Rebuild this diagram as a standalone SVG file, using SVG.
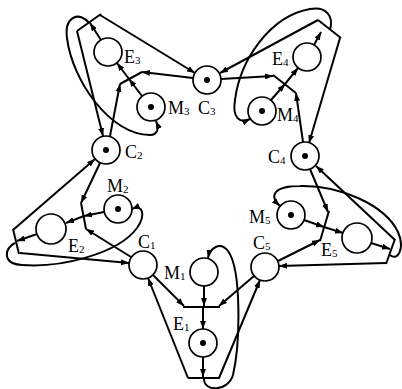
<svg xmlns="http://www.w3.org/2000/svg" width="402" height="389" viewBox="0 0 402 389">
<defs>
<marker id="a" viewBox="0 0 8 6" refX="8" refY="3" markerWidth="8" markerHeight="6" orient="auto" markerUnits="userSpaceOnUse"><path d="M0,0 L8,3 L0,6 z" fill="#000"/></marker>
<style>
.p{fill:#fff;stroke:#000;stroke-width:1.7}
.k{fill:#000}
.t{stroke:#000;stroke-width:2;fill:none}
.e{stroke:#000;stroke-width:2;fill:none;marker-end:url(#a)}
.l{font-family:"Liberation Serif",serif;font-size:18px;fill:#000}
.s{font-size:11px}
</style>
</defs>
<rect width="402" height="389" fill="#fff"/>
<g id="connectors">
<!-- arm 1 -->
<line class="e" x1="204" y1="286" x2="204" y2="306"/>
<line class="e" x1="153" y1="275" x2="184" y2="306"/>
<line class="e" x1="254" y1="276" x2="219" y2="306"/>
<line class="e" x1="203" y1="307" x2="203" y2="329"/>
<line class="e" x1="203" y1="357" x2="203" y2="377"/>
<line class="e" x1="188" y1="378" x2="148" y2="278"/>
<line class="e" x1="219" y1="378" x2="260" y2="280"/>
<path class="e" d="M204,379 C204,392 228,392 233,375 C240,345 242,270 228,251 C220,241 210,248 208,258"/>
<!-- arm 2 -->
<line class="e" x1="100" y1="163" x2="81" y2="203"/>
<line class="e" x1="131" y1="257" x2="86" y2="229"/>
<line class="e" x1="104" y1="212" x2="84" y2="216"/>
<line class="e" x1="84" y1="216" x2="66" y2="223"/>
<line class="e" x1="37" y1="234" x2="17" y2="241"/>
<line class="e" x1="13" y1="230" x2="95" y2="159"/>
<line class="e" x1="20" y1="253" x2="129" y2="263"/>
<path class="e" d="M15,243 C4,248 2,264 22,265 C60,268 118,254 137,228 C146,215 143,204 132,209"/>
<!-- arm 3 -->
<line class="e" x1="193" y1="78" x2="142" y2="72"/>
<line class="e" x1="110" y1="136" x2="120" y2="84"/>
<line class="e" x1="142" y1="96" x2="129" y2="79"/>
<line class="e" x1="129" y1="79" x2="117" y2="63"/>
<line class="e" x1="101" y1="40" x2="90" y2="23"/>
<line class="e" x1="100" y1="15" x2="195" y2="73"/>
<line class="e" x1="77" y1="31" x2="103" y2="136"/>
<path class="e" d="M89,23 C80,11 64,16 67,38 C72,80 110,135 150,135 C158,135 159,128 156,121"/>
<!-- arm 4 -->
<line class="e" x1="221" y1="79" x2="273" y2="76"/>
<line class="e" x1="303" y1="142" x2="296" y2="93"/>
<line class="e" x1="271" y1="100" x2="285" y2="84"/>
<line class="e" x1="285" y1="84" x2="298" y2="68"/>
<line class="e" x1="314" y1="45" x2="321" y2="32"/>
<line class="e" x1="318" y1="20" x2="220" y2="73"/>
<line class="e" x1="340" y1="38" x2="309" y2="143"/>
<path class="e" d="M330,30 C334,16 326,6 310,9 C270,16 240,60 235,100 C232,118 240,124 250,119"/>
<!-- arm 5 -->
<line class="e" x1="310" y1="169" x2="328" y2="212"/>
<line class="e" x1="278" y1="261" x2="320" y2="240"/>
<line class="e" x1="304" y1="220" x2="324" y2="227"/>
<line class="e" x1="324" y1="227" x2="343" y2="233"/>
<line class="e" x1="371" y1="243" x2="390" y2="249"/>
<line class="e" x1="395" y1="240" x2="316" y2="166"/>
<line class="e" x1="386" y1="263" x2="279" y2="266"/>
<path class="e" d="M390,255 C398,262 405,248 398,232 C385,205 340,185 300,186 C275,186 268,195 280,206"/>
</g>
<g id="t1"><line class="t" x1="183" y1="307" x2="220" y2="307"/></g>
<g id="t1r"><line class="t" x1="188" y1="378" x2="220" y2="378"/></g>
<g id="t2"><line class="t" x1="81" y1="203" x2="86" y2="229"/></g>
<g id="t2r"><line class="t" x1="13" y1="229" x2="19" y2="254"/></g>
<g id="t3"><line class="t" x1="120" y1="84" x2="142" y2="72"/></g>
<g id="t3r"><line class="t" x1="77" y1="31" x2="101" y2="14"/></g>
<g id="t4"><line class="t" x1="273" y1="75" x2="296" y2="93"/></g>
<g id="t4r"><line class="t" x1="318" y1="20" x2="341" y2="38"/></g>
<g id="t5"><line class="t" x1="329" y1="211" x2="320" y2="241"/></g>
<g id="t5r"><line class="t" x1="395" y1="239" x2="386" y2="264"/></g>
<g id="C1"><circle class="p" cx="143" cy="265" r="14"/><text class="l" x="138" y="248">C<tspan class="s" dy="1">1</tspan></text></g>
<g id="C2"><circle class="p" cx="106" cy="150" r="14"/><circle class="k" cx="106" cy="150" r="3"/><text class="l" x="125" y="158">C<tspan class="s" dy="1">2</tspan></text></g>
<g id="C3"><circle class="p" cx="207" cy="80" r="14"/><circle class="k" cx="207" cy="80" r="3"/><text class="l" x="198" y="114">C<tspan class="s" dy="1">3</tspan></text></g>
<g id="C4"><circle class="p" cx="305" cy="156" r="14"/><circle class="k" cx="305" cy="156" r="3"/><text class="l" x="268" y="163">C<tspan class="s" dy="1">4</tspan></text></g>
<g id="C5"><circle class="p" cx="265" cy="267" r="14"/><text class="l" x="253" y="249">C<tspan class="s" dy="1">5</tspan></text></g>
<g id="M1"><circle class="p" cx="204" cy="272" r="14"/><text class="l" x="164" y="279">M<tspan class="s" dy="1">1</tspan></text></g>
<g id="M2"><circle class="p" cx="118" cy="209" r="14"/><circle class="k" cx="118" cy="209" r="3"/><text class="l" x="107" y="192">M<tspan class="s" dy="1">2</tspan></text></g>
<g id="M3"><circle class="p" cx="151" cy="107" r="14"/><circle class="k" cx="151" cy="107" r="3"/><text class="l" x="168" y="114">M<tspan class="s" dy="1">3</tspan></text></g>
<g id="M4"><circle class="p" cx="262" cy="111" r="14"/><circle class="k" cx="262" cy="111" r="3"/><text class="l" x="277" y="121">M<tspan class="s" dy="1">4</tspan></text></g>
<g id="M5"><circle class="p" cx="291" cy="215" r="14"/><circle class="k" cx="291" cy="215" r="3"/><text class="l" x="249" y="223">M<tspan class="s" dy="1">5</tspan></text></g>
<g id="E1"><circle class="p" cx="203" cy="343" r="14"/><circle class="k" cx="203" cy="343" r="3"/><text class="l" x="173" y="330">E<tspan class="s" dy="1">1</tspan></text></g>
<g id="E2"><circle class="p" cx="51" cy="229" r="15"/><text class="l" x="68" y="252">E<tspan class="s" dy="1">2</tspan></text></g>
<g id="E3"><circle class="p" cx="108" cy="52" r="14"/><text class="l" x="124" y="63">E<tspan class="s" dy="1">3</tspan></text></g>
<g id="E4"><circle class="p" cx="307" cy="57" r="14"/><text class="l" x="272" y="65">E<tspan class="s" dy="1">4</tspan></text></g>
<g id="E5"><circle class="p" cx="357" cy="238" r="15"/><text class="l" x="321" y="256">E<tspan class="s" dy="1">5</tspan></text></g>
</svg>
